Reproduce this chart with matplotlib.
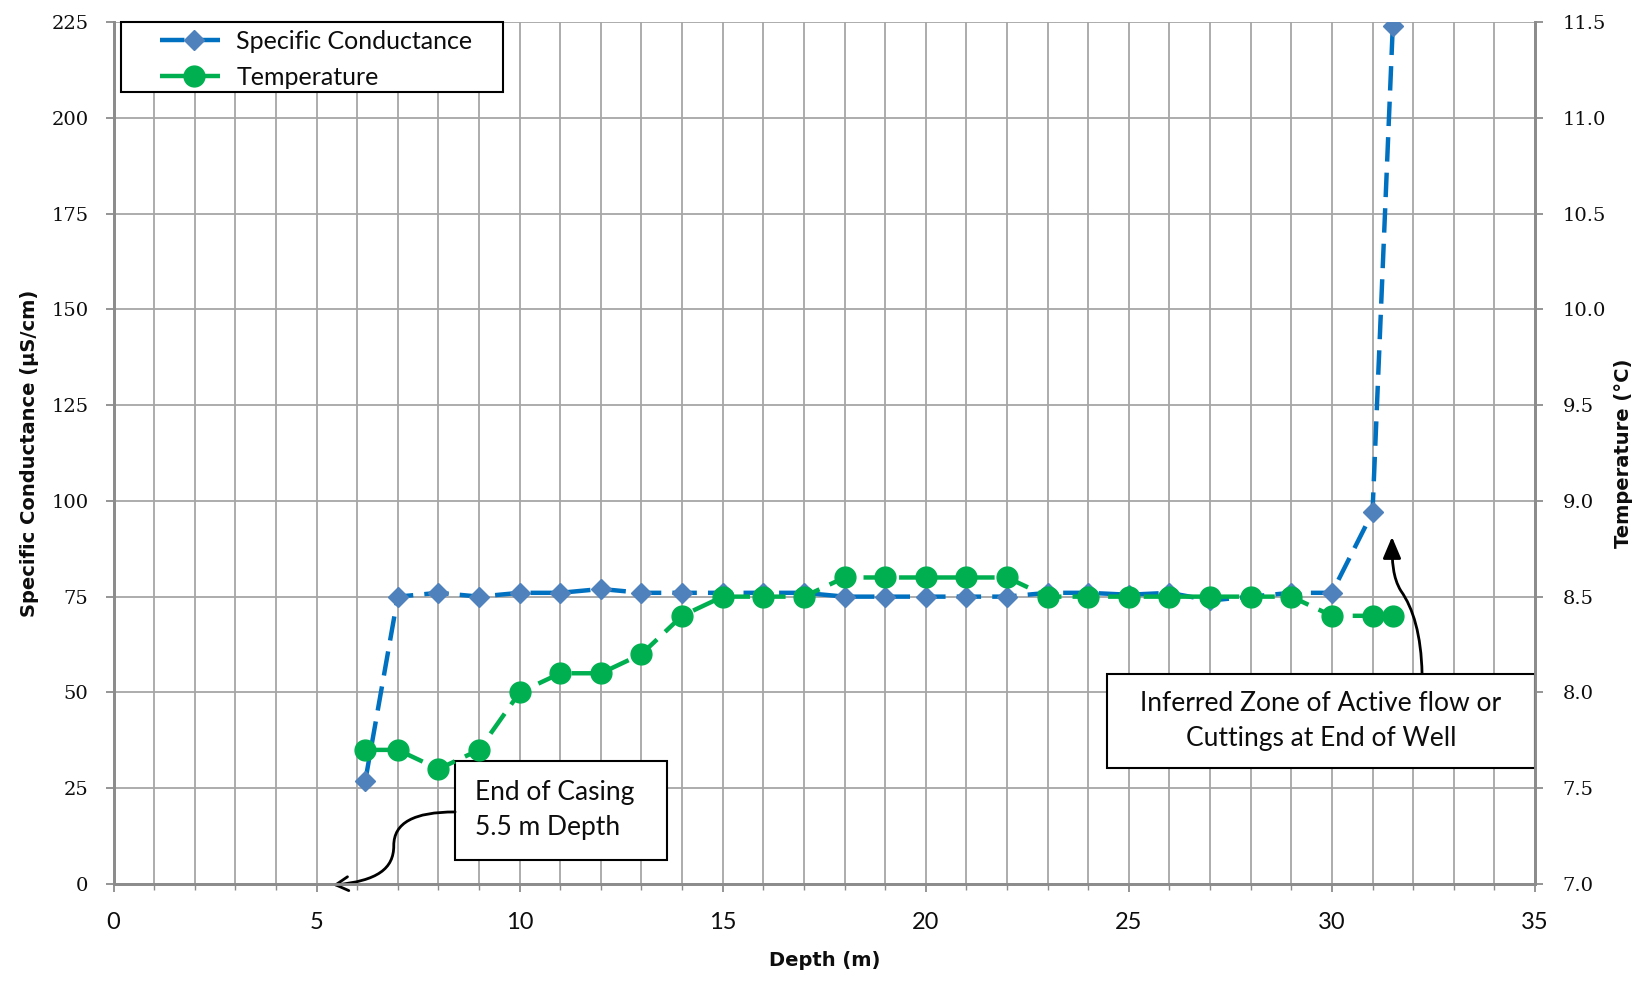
import matplotlib
matplotlib.use("Agg")
import matplotlib.pyplot as plt
from matplotlib.patches import FancyArrowPatch, Rectangle
from matplotlib.path import Path
from matplotlib.ticker import MultipleLocator

# Depth profile readings
depth = [6.2, 7, 8, 9, 10, 11, 12, 13, 14, 15, 16, 17, 18, 19, 20, 21, 22,
         23, 24, 25, 26, 27, 28, 29, 30, 31, 31.5]
spec_cond = [27, 75, 76, 75, 76, 76, 77, 76, 76, 76, 76, 76, 75, 75, 75, 75, 75,
             76, 76, 75.5, 76, 74, 75, 76, 76, 97, 224]
temperature = [7.7, 7.7, 7.6, 7.7, 8.0, 8.1, 8.1, 8.2, 8.4, 8.5, 8.5, 8.5, 8.6, 8.6,
               8.6, 8.6, 8.6, 8.5, 8.5, 8.5, 8.5, 8.5, 8.5, 8.5, 8.4, 8.4, 8.4]

x_ticks = [0, 5, 10, 15, 20, 25, 30, 35]
cond_ticks = [0, 25, 50, 75, 100, 125, 150, 175, 200, 225]
temp_ticks = [7.0, 7.5, 8.0, 8.5, 9.0, 9.5, 10.0, 10.5, 11.0, 11.5]

BLUE_LINE = "#0070C0"
BLUE_MARK = "#4F81BD"
GREEN = "#00B050"
GRID = "#a6a6a6"
SPINE = "#8c8c8c"
TEXT = "#0d0d0d"
SANS = ["Lato", "DejaVu Sans"]

fig = plt.figure(figsize=(16.48, 9.81), dpi=100)
ax = fig.add_axes([0.0689, 0.0989, 0.8625, 0.8787])
ax2 = ax.twinx()

ax.set_xlim(0, 35)
ax.set_ylim(0, 225)
ax2.set_ylim(7.0, 11.5)

ax.xaxis.set_major_locator(MultipleLocator(5))
ax.xaxis.set_minor_locator(MultipleLocator(1))
ax.set_xticks(x_ticks)
ax.set_yticks(cond_ticks)
ax2.set_yticks(temp_ticks)
ax.set_xticklabels([str(v) for v in x_ticks])
ax.set_yticklabels([str(v) for v in cond_ticks])
ax2.set_yticklabels([f"{v:.1f}" for v in temp_ticks])

ax.grid(True, which="both", axis="x", color=GRID, lw=1.3)
ax.grid(True, which="major", axis="y", color=GRID, lw=1.3)
ax.set_axisbelow(True)

for a in (ax, ax2):
    for s in a.spines.values():
        s.set_color(SPINE)
        s.set_linewidth(2)
    a.spines["top"].set_visible(False)
ax.tick_params(axis="x", which="major", direction="out", length=6, color=SPINE,
               width=1.3, pad=14, labelcolor=TEXT)
ax.tick_params(axis="y", which="major", direction="out", length=6, color=SPINE,
               width=1.3, pad=12, labelcolor=TEXT)
ax.tick_params(axis="x", which="minor", direction="out", length=4, color=SPINE, width=1)
ax2.tick_params(axis="y", direction="out", length=6, color=SPINE, width=1.3, pad=14,
                labelcolor=TEXT)

for lbl in ax.get_xticklabels():
    lbl.set_fontfamily(SANS)
    lbl.set_fontsize(17)
for lbl in ax.get_yticklabels() + ax2.get_yticklabels():
    lbl.set_fontfamily("DejaVu Serif")
    lbl.set_fontsize(14)

dash = (0, (5.5, 2.5))
ax.plot(depth, spec_cond, color=BLUE_LINE, lw=3.2, linestyle=dash, marker="D",
        markersize=10, markerfacecolor=BLUE_MARK, markeredgecolor=BLUE_MARK,
        label="Specific Conductance", zorder=3)
ax2.plot(depth, temperature, color=GREEN, lw=3.2, linestyle=dash, marker="o",
         markersize=15, markerfacecolor=GREEN, markeredgecolor=GREEN,
         label="Temperature", zorder=3)

label_font = dict(family="DejaVu Sans", size=14, weight="bold", color=TEXT)
ax.set_xlabel("Depth (m)", labelpad=13, **label_font)
ax.set_ylabel("Specific Conductance (µS/cm)", labelpad=9, **label_font)
ax2.set_ylabel("Temperature (°C)", labelpad=6, **label_font)

# Legend drawn without its own frame; the frame is a separate rectangle
ax2.add_patch(Rectangle((0.0053, 0.9188), 0.274 - 0.0053, 1.0 - 0.9188,
                        transform=ax2.transAxes, facecolor="white", edgecolor="black",
                        lw=1.5, zorder=6, clip_on=False))
h1, l1 = ax.get_legend_handles_labels()
h2, l2 = ax2.get_legend_handles_labels()
leg = ax2.legend(h1 + h2, l1 + l2, loc="upper left",
                 bbox_to_anchor=((160 - 113.5) / 1421.5, 0.991),
                 borderaxespad=0, borderpad=0, prop=dict(family=SANS, size=18),
                 frameon=False, handlelength=2.75, labelspacing=0.52,
                 handletextpad=0.3, labelcolor=TEXT)
leg.set_zorder(7)

note_font = dict(family=SANS, size=19, color=TEXT)

# Callout: end of casing
ax.add_patch(Rectangle((8.41, 6.3), 13.64 - 8.41, 32.1 - 6.3, facecolor="white",
                       edgecolor="black", lw=1.5, zorder=6))
ax.text(8.9, 19.2, "End of Casing\n5.5 m Depth", ha="left", va="center",
        linespacing=1.5, zorder=7, **note_font)
casing_path = Path([(8.41, 18.8), (7.4, 18.8), (6.9, 16.0), (6.9, 10.0),
                    (6.9, 4.0), (6.5, 0.8), (5.4, -0.3)],
                   [Path.MOVETO, Path.CURVE4, Path.CURVE4, Path.CURVE4,
                    Path.CURVE4, Path.CURVE4, Path.CURVE4])
ax.add_patch(FancyArrowPatch(path=casing_path, arrowstyle="->,head_length=9,head_width=5",
                             color="black", lw=2, zorder=6, clip_on=False))

# Callout: inferred active zone
ax.add_patch(Rectangle((24.46, 30.2), 35.0 - 24.46, 54.9 - 30.2, facecolor="white",
                       edgecolor="black", lw=1.5, zorder=6))
ax.text(29.73, 42.5, "Inferred Zone of Active flow or\nCuttings at End of Well",
        ha="center", va="center", linespacing=1.5, zorder=7, **note_font)
zone_path = Path([(32.22, 54.9), (32.2, 65.0), (32.0, 72.0), (31.7, 76.5),
                  (31.5, 80.0), (31.48, 84.0), (31.48, 90.6)],
                 [Path.MOVETO, Path.CURVE4, Path.CURVE4, Path.CURVE4,
                  Path.CURVE4, Path.CURVE4, Path.CURVE4])
ax.add_patch(FancyArrowPatch(path=zone_path, arrowstyle="-|>,head_length=13,head_width=5.5",
                             color="black", lw=2, zorder=6))

fig.savefig("out.png", dpi=100)
